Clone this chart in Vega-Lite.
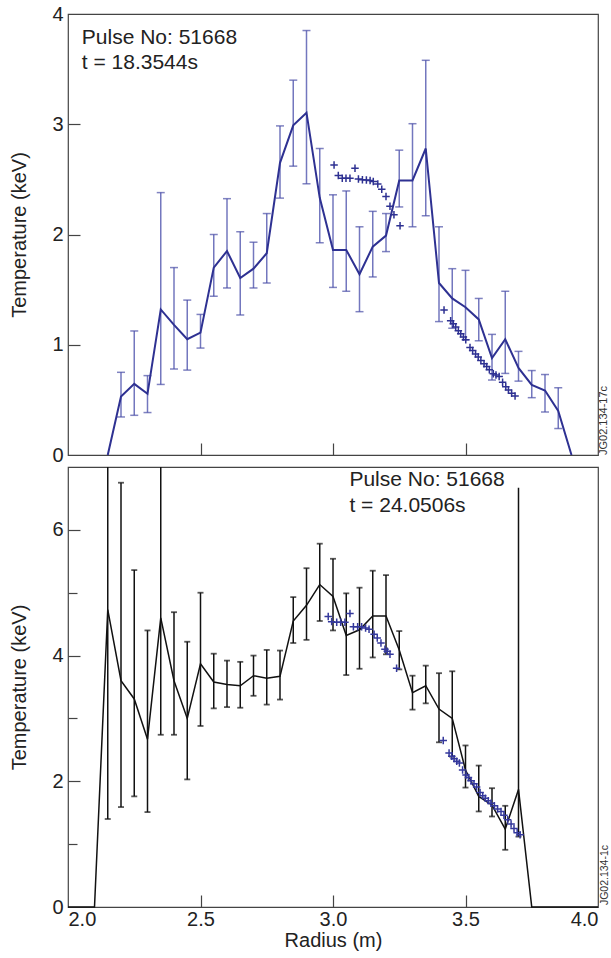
{
  "$schema": "https://vega.github.io/schema/vega-lite/v6.json",
  "background": "white",
  "autosize": {"type": "pad"},
  "padding": {"left": 9, "top": 3, "right": 0, "bottom": 0},
  "spacing": 0,
  "config": {
    "font": "Liberation Sans",
    "view": {"stroke": "#444", "strokeWidth": 1.2},
    "axis": {
      "grid": false,
      "domain": false,
      "labelFont": "Liberation Sans",
      "labelFontSize": 20,
      "labelColor": "#222",
      "titleFont": "Liberation Sans",
      "titleFontSize": 20,
      "titleFontWeight": "normal",
      "titleColor": "#222",
      "tickColor": "#444",
      "tickWidth": 1.2,
      "tickSize": 12,
      "labelPadding": 5
    }
  },
  "datasets": {
    "top_fit": [
      {"r": 2.15, "t": 0, "lo": null, "hi": null},
      {"r": 2.20, "t": 0.53, "lo": 0.345, "hi": 0.75},
      {"r": 2.25, "t": 0.645, "lo": 0.36, "hi": 1.125},
      {"r": 2.30, "t": 0.555, "lo": 0.385, "hi": 0.72},
      {"r": 2.35, "t": 1.32, "lo": 0.64, "hi": 2.38},
      {"r": 2.40, "t": 1.18, "lo": 0.78, "hi": 1.70},
      {"r": 2.45, "t": 1.05, "lo": 0.77, "hi": 1.405},
      {"r": 2.50, "t": 1.11, "lo": 0.97, "hi": 1.275},
      {"r": 2.55, "t": 1.70, "lo": 1.44, "hi": 2.0},
      {"r": 2.60, "t": 1.85, "lo": 1.515, "hi": 2.325},
      {"r": 2.65, "t": 1.605, "lo": 1.27, "hi": 2.025},
      {"r": 2.70, "t": 1.69, "lo": 1.515, "hi": 1.93},
      {"r": 2.75, "t": 1.83, "lo": 1.56, "hi": 2.19},
      {"r": 2.80, "t": 2.65, "lo": 2.33, "hi": 2.985},
      {"r": 2.85, "t": 2.99, "lo": 2.62, "hi": 3.40},
      {"r": 2.90, "t": 3.105, "lo": 2.46, "hi": 3.85},
      {"r": 2.95, "t": 2.333, "lo": 1.925, "hi": 2.78},
      {"r": 3.00, "t": 1.86, "lo": 1.52, "hi": 2.36},
      {"r": 3.05, "t": 1.86, "lo": 1.485, "hi": 2.395},
      {"r": 3.10, "t": 1.64, "lo": 1.30, "hi": 2.07},
      {"r": 3.15, "t": 1.89, "lo": 1.615, "hi": 2.21},
      {"r": 3.20, "t": 1.99, "lo": 1.845, "hi": 2.19},
      {"r": 3.25, "t": 2.49, "lo": 2.25, "hi": 2.765},
      {"r": 3.30, "t": 2.49, "lo": 2.07, "hi": 3.005},
      {"r": 3.35, "t": 2.78, "lo": 2.17, "hi": 3.58},
      {"r": 3.40, "t": 1.56, "lo": 1.21, "hi": 2.07},
      {"r": 3.45, "t": 1.42, "lo": 1.15, "hi": 1.69},
      {"r": 3.50, "t": 1.34, "lo": 1.045, "hi": 1.675},
      {"r": 3.55, "t": 1.23, "lo": 1.036, "hi": 1.42},
      {"r": 3.60, "t": 0.88, "lo": 0.68, "hi": 1.094},
      {"r": 3.65, "t": 1.05, "lo": 0.74, "hi": 1.485},
      {"r": 3.70, "t": 0.79, "lo": 0.67, "hi": 0.94},
      {"r": 3.75, "t": 0.636, "lo": 0.52, "hi": 0.766},
      {"r": 3.80, "t": 0.585, "lo": 0.39, "hi": 0.73},
      {"r": 3.85, "t": 0.40, "lo": 0.24, "hi": 0.61},
      {"r": 3.90, "t": 0, "lo": null, "hi": null}
    ],
    "top_ece": [
      {"r": 3.004, "t": 2.63},
      {"r": 3.020, "t": 2.536},
      {"r": 3.035, "t": 2.51},
      {"r": 3.049, "t": 2.51},
      {"r": 3.064, "t": 2.51},
      {"r": 3.083, "t": 2.60},
      {"r": 3.096, "t": 2.503},
      {"r": 3.111, "t": 2.497},
      {"r": 3.126, "t": 2.494},
      {"r": 3.140, "t": 2.49},
      {"r": 3.152, "t": 2.48},
      {"r": 3.169, "t": 2.457},
      {"r": 3.184, "t": 2.41},
      {"r": 3.200, "t": 2.345},
      {"r": 3.215, "t": 2.257},
      {"r": 3.230, "t": 2.18},
      {"r": 3.253, "t": 2.08},
      {"r": 3.419, "t": 1.315},
      {"r": 3.444, "t": 1.218},
      {"r": 3.454, "t": 1.19},
      {"r": 3.463, "t": 1.16},
      {"r": 3.473, "t": 1.127},
      {"r": 3.482, "t": 1.10},
      {"r": 3.492, "t": 1.07},
      {"r": 3.501, "t": 1.045},
      {"r": 3.517, "t": 0.975},
      {"r": 3.527, "t": 0.948},
      {"r": 3.538, "t": 0.915},
      {"r": 3.548, "t": 0.888},
      {"r": 3.558, "t": 0.857},
      {"r": 3.570, "t": 0.827},
      {"r": 3.580, "t": 0.803},
      {"r": 3.590, "t": 0.773},
      {"r": 3.605, "t": 0.736},
      {"r": 3.615, "t": 0.725},
      {"r": 3.627, "t": 0.712},
      {"r": 3.640, "t": 0.66},
      {"r": 3.652, "t": 0.62},
      {"r": 3.662, "t": 0.59},
      {"r": 3.674, "t": 0.56},
      {"r": 3.687, "t": 0.536}
    ],
    "bottom_fit": [
      {"r": 2.00, "t": 0, "lo": null, "hi": null},
      {"r": 2.10, "t": 0, "lo": null, "hi": null},
      {"r": 2.15, "t": 4.73, "lo": 1.40, "hi": 9.0},
      {"r": 2.20, "t": 3.60, "lo": 1.59, "hi": 6.75},
      {"r": 2.25, "t": 3.31, "lo": 1.76, "hi": 5.36},
      {"r": 2.30, "t": 2.67, "lo": 1.51, "hi": 4.40},
      {"r": 2.35, "t": 4.60, "lo": 2.74, "hi": 9.0},
      {"r": 2.40, "t": 3.60, "lo": 2.74, "hi": 4.69},
      {"r": 2.45, "t": 3.00, "lo": 2.03, "hi": 4.22},
      {"r": 2.50, "t": 3.87, "lo": 2.88, "hi": 5.00},
      {"r": 2.55, "t": 3.58, "lo": 3.16, "hi": 4.03},
      {"r": 2.60, "t": 3.54, "lo": 3.18, "hi": 3.92},
      {"r": 2.65, "t": 3.52, "lo": 3.17, "hi": 3.90},
      {"r": 2.70, "t": 3.68, "lo": 3.36, "hi": 4.00},
      {"r": 2.75, "t": 3.64, "lo": 3.22, "hi": 4.09},
      {"r": 2.80, "t": 3.67, "lo": 3.30, "hi": 4.08},
      {"r": 2.85, "t": 4.55, "lo": 4.20, "hi": 4.93},
      {"r": 2.90, "t": 4.80, "lo": 4.25, "hi": 5.39},
      {"r": 2.95, "t": 5.13, "lo": 4.55, "hi": 5.78},
      {"r": 3.00, "t": 4.94, "lo": 4.40, "hi": 5.54},
      {"r": 3.05, "t": 4.32, "lo": 3.69, "hi": 4.99},
      {"r": 3.10, "t": 4.41, "lo": 3.79, "hi": 5.08},
      {"r": 3.15, "t": 4.63, "lo": 3.97, "hi": 5.35},
      {"r": 3.20, "t": 4.63, "lo": 4.02, "hi": 5.28},
      {"r": 3.25, "t": 4.09, "lo": 3.78, "hi": 4.39},
      {"r": 3.30, "t": 3.41, "lo": 3.14, "hi": 3.68},
      {"r": 3.35, "t": 3.52, "lo": 3.24, "hi": 3.84},
      {"r": 3.40, "t": 3.15, "lo": 2.62, "hi": 3.72},
      {"r": 3.45, "t": 3.00, "lo": 2.39, "hi": 3.75},
      {"r": 3.50, "t": 2.18, "lo": 1.90, "hi": 2.57},
      {"r": 3.55, "t": 1.76, "lo": 1.52, "hi": 2.25},
      {"r": 3.60, "t": 1.62, "lo": 1.44, "hi": 1.89},
      {"r": 3.65, "t": 1.24, "lo": 0.91, "hi": 1.61},
      {"r": 3.70, "t": 1.87, "lo": 1.12, "hi": 6.67},
      {"r": 3.75, "t": 0, "lo": null, "hi": null},
      {"r": 4.00, "t": 0, "lo": null, "hi": null}
    ],
    "bottom_ece": [
      {"r": 2.982, "t": 4.62},
      {"r": 2.995, "t": 4.54},
      {"r": 3.014, "t": 4.53},
      {"r": 3.029, "t": 4.53},
      {"r": 3.045, "t": 4.53},
      {"r": 3.064, "t": 4.67},
      {"r": 3.077, "t": 4.46},
      {"r": 3.093, "t": 4.46},
      {"r": 3.108, "t": 4.46},
      {"r": 3.123, "t": 4.44},
      {"r": 3.136, "t": 4.42},
      {"r": 3.155, "t": 4.34},
      {"r": 3.167, "t": 4.28},
      {"r": 3.181, "t": 4.20},
      {"r": 3.196, "t": 4.10},
      {"r": 3.205, "t": 4.07},
      {"r": 3.215, "t": 4.02},
      {"r": 3.240, "t": 3.80},
      {"r": 3.416, "t": 2.65},
      {"r": 3.438, "t": 2.45},
      {"r": 3.448, "t": 2.40},
      {"r": 3.457, "t": 2.36},
      {"r": 3.467, "t": 2.32},
      {"r": 3.477, "t": 2.29},
      {"r": 3.489, "t": 2.18},
      {"r": 3.502, "t": 2.10},
      {"r": 3.511, "t": 2.06},
      {"r": 3.521, "t": 2.01},
      {"r": 3.532, "t": 1.96},
      {"r": 3.542, "t": 1.91},
      {"r": 3.555, "t": 1.82},
      {"r": 3.565, "t": 1.77},
      {"r": 3.575, "t": 1.73},
      {"r": 3.586, "t": 1.69},
      {"r": 3.596, "t": 1.65},
      {"r": 3.609, "t": 1.61},
      {"r": 3.621, "t": 1.56},
      {"r": 3.634, "t": 1.52},
      {"r": 3.645, "t": 1.46},
      {"r": 3.659, "t": 1.39},
      {"r": 3.672, "t": 1.32},
      {"r": 3.683, "t": 1.25},
      {"r": 3.695, "t": 1.18},
      {"r": 3.706, "t": 1.15}
    ]
  },
  "vconcat": [
    {
      "width": 530,
      "height": 441,
      "resolve": {"axis": {"y": "independent"}},
      "layer": [
        {
          "data": {"name": "top_fit"},
          "transform": [{"filter": "isValid(datum.lo)"}],
          "mark": {"type": "rule", "color": "#7377be", "strokeWidth": 1.5},
          "encoding": {
            "x": {
              "field": "r", "type": "quantitative",
              "scale": {"domain": [2, 4], "nice": false, "zero": false},
              "axis": {"orient": "top", "offset": -441, "values": [2.5, 3, 3.5], "labels": false, "title": null, "minExtent": 0, "maxExtent": 0}
            },
            "y": {
              "field": "lo", "type": "quantitative",
              "scale": {"domain": [0, 4], "nice": false},
              "axis": {"values": [0, 1, 2, 3, 4], "format": "d", "ticks": false, "title": "Temperature (keV)", "titlePadding": 22}
            },
            "y2": {"field": "hi"}
          }
        },
        {
          "data": {"name": "top_fit"},
          "transform": [{"filter": "isValid(datum.lo)"}],
          "mark": {"type": "tick", "orient": "horizontal", "color": "#4a4ea6", "size": 8, "thickness": 1.5},
          "encoding": {
            "x": {"field": "r", "type": "quantitative"},
            "y": {
              "field": "lo", "type": "quantitative",
              "axis": {"orient": "right", "offset": -530, "values": [1, 2, 3], "labels": false, "title": null, "minExtent": 0, "maxExtent": 0}
            }
          }
        },
        {
          "data": {"name": "top_fit"},
          "transform": [{"filter": "isValid(datum.hi)"}],
          "mark": {"type": "tick", "orient": "horizontal", "color": "#4a4ea6", "size": 8, "thickness": 1.5},
          "encoding": {
            "x": {"field": "r", "type": "quantitative"},
            "y": {"field": "hi", "type": "quantitative", "axis": null}
          }
        },
        {
          "data": {"name": "top_fit"},
          "mark": {"type": "line", "color": "#2e3192", "strokeWidth": 2},
          "encoding": {
            "x": {"field": "r", "type": "quantitative"},
            "y": {"field": "t", "type": "quantitative", "axis": null}
          }
        },
        {
          "data": {"name": "top_ece"},
          "mark": {"type": "point", "shape": "M-1,0L1,0M0,-1L0,1", "filled": false, "size": 56, "color": "#2e3192", "strokeWidth": 1.5, "opacity": 1},
          "encoding": {
            "x": {"field": "r", "type": "quantitative"},
            "y": {"field": "t", "type": "quantitative", "axis": null}
          }
        },
        {
          "data": {"values": [
            {"r": 2.052, "t": 3.727, "note": "Pulse No: 51668"},
            {"r": 2.052, "t": 3.50, "note": "t = 18.3544s"}
          ]},
          "mark": {"type": "text", "align": "left", "baseline": "alphabetic", "fontSize": 21, "color": "#222"},
          "encoding": {
            "x": {"field": "r", "type": "quantitative"},
            "y": {"field": "t", "type": "quantitative", "axis": null},
            "text": {"field": "note"}
          }
        },
        {
          "data": {"values": [{"r": 4.0226, "t": 0.0, "note": "JG02.134-17c"}]},
          "mark": {"type": "text", "angle": 270, "align": "left", "baseline": "middle", "fontSize": 11, "color": "#333"},
          "encoding": {
            "x": {"field": "r", "type": "quantitative"},
            "y": {"field": "t", "type": "quantitative", "axis": null},
            "text": {"field": "note"}
          }
        }
      ]
    },
    {
      "width": 530,
      "height": 440,
      "resolve": {"axis": {"x": "independent", "y": "independent"}},
      "layer": [
        {
          "data": {"name": "bottom_fit"},
          "transform": [{"filter": "isValid(datum.lo)"}],
          "mark": {"type": "rule", "color": "#111", "strokeWidth": 1.5, "clip": true},
          "encoding": {
            "x": {
              "field": "r", "type": "quantitative",
              "scale": {"domain": [2, 4], "nice": false, "zero": false},
              "axis": {"values": [2, 2.5, 3, 3.5, 4], "format": ".1f", "ticks": false, "title": "Radius (m)", "titlePadding": 1, "labelPadding": 2}
            },
            "y": {
              "field": "lo", "type": "quantitative",
              "scale": {"domain": [0, 7], "nice": false},
              "axis": {"values": [0, 2, 4, 6], "format": "d", "ticks": false, "title": "Temperature (keV)", "titlePadding": 22}
            },
            "y2": {"field": "hi"}
          }
        },
        {
          "data": {"name": "bottom_fit"},
          "transform": [{"filter": "isValid(datum.lo)"}],
          "mark": {"type": "tick", "orient": "horizontal", "color": "#111", "size": 6, "thickness": 1.8},
          "encoding": {
            "x": {
              "field": "r", "type": "quantitative",
              "axis": {"orient": "top", "offset": -440, "values": [2.5, 3, 3.5], "labels": false, "title": null, "minExtent": 0, "maxExtent": 0}
            },
            "y": {
              "field": "lo", "type": "quantitative",
              "axis": {"orient": "right", "offset": -530, "values": [2, 4, 6], "labels": false, "title": null, "minExtent": 0, "maxExtent": 0}
            }
          }
        },
        {
          "data": {"name": "bottom_fit"},
          "transform": [{"filter": "isValid(datum.hi) && datum.hi < 7 && datum.r != 3.7"}],
          "mark": {"type": "tick", "orient": "horizontal", "color": "#111", "size": 6, "thickness": 1.8},
          "encoding": {
            "x": {"field": "r", "type": "quantitative", "axis": null},
            "y": {
              "field": "hi", "type": "quantitative",
              "axis": {"orient": "right", "offset": -530, "values": [1, 3, 5], "tickSize": 9, "labels": false, "title": null, "minExtent": 0, "maxExtent": 0}
            }
          }
        },
        {
          "data": {"name": "bottom_fit"},
          "mark": {"type": "line", "color": "#111", "strokeWidth": 1.5},
          "encoding": {
            "x": {"field": "r", "type": "quantitative", "axis": null},
            "y": {"field": "t", "type": "quantitative", "axis": null}
          }
        },
        {
          "data": {"name": "bottom_ece"},
          "mark": {"type": "point", "shape": "M-1,0L1,0M0,-1L0,1", "filled": false, "size": 56, "color": "#34389c", "strokeWidth": 1.5, "opacity": 1},
          "encoding": {
            "x": {"field": "r", "type": "quantitative", "axis": null},
            "y": {"field": "t", "type": "quantitative", "axis": null}
          }
        },
        {
          "data": {"values": [
            {"r": 3.062, "t": 6.70, "note": "Pulse No: 51668"},
            {"r": 3.062, "t": 6.29, "note": "t = 24.0506s"}
          ]},
          "mark": {"type": "text", "align": "left", "baseline": "alphabetic", "fontSize": 21, "color": "#222"},
          "encoding": {
            "x": {"field": "r", "type": "quantitative", "axis": null},
            "y": {"field": "t", "type": "quantitative", "axis": null},
            "text": {"field": "note"}
          }
        },
        {
          "data": {"values": [{"r": 4.0265, "t": 0.03, "note": "JG02.134-1c"}]},
          "mark": {"type": "text", "angle": 270, "align": "left", "baseline": "middle", "fontSize": 10.5, "color": "#333"},
          "encoding": {
            "x": {"field": "r", "type": "quantitative", "axis": null},
            "y": {"field": "t", "type": "quantitative", "axis": null},
            "text": {"field": "note"}
          }
        }
      ]
    }
  ]
}
